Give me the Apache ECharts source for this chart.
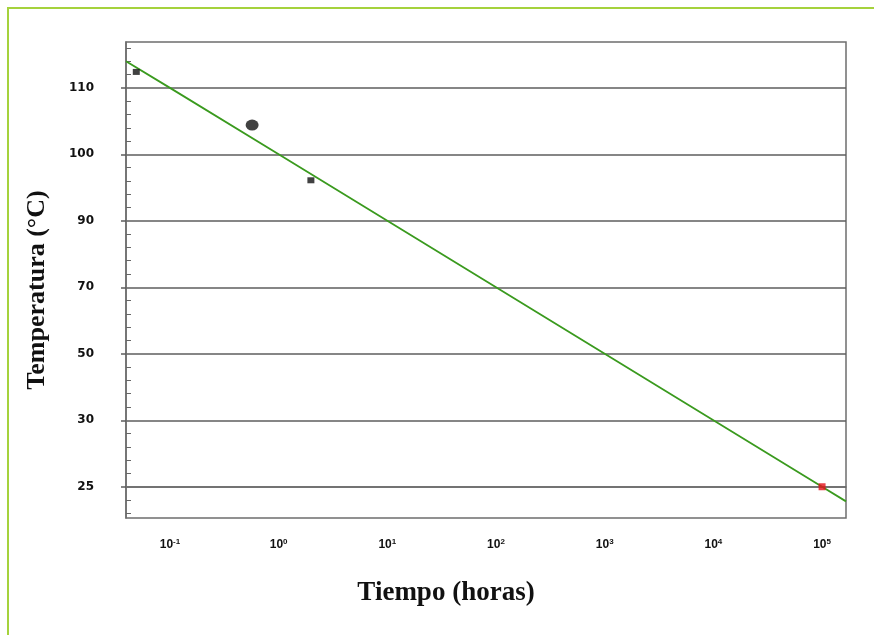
<!DOCTYPE html>
<html>
<head>
<meta charset="utf-8">
<script src="https://cdn.jsdelivr.net/npm/echarts@6/dist/echarts.min.js"></script>
<style>
  html, body { margin: 0; padding: 0; background: #fff; }
  #chart { width: 874px; height: 635px; }
</style>
</head>
<body>
<div id="chart"></div>
<script>
  // temperaturas de las lineas de la rejilla (de abajo hacia arriba)
  const tempTicks = [25, 30, 50, 70, 90, 100, 110]
  const hourTicks = [0.1, 1, 10, 100, 1000, 10000, 100000]

  // puntos medidos
  const blackHours = [0.049, 1.98]
  const blackTemps = [112.4, 96.1]
  const circleHours = [0.57]
  const circleTemps = [104.4]
  const redHours = [100000]
  const redTemps = [25]

  // recta de ajuste
  const lineHours = [0.0394, 0.1, 1, 10, 100, 1000, 10000, 100000, 166000]
  const lineTemps = [114, 110, 100, 90, 70, 50, 30, 25, 23.9]

  // el eje Y no es lineal: cada linea de la rejilla ocupa una posicion
  function tempToPos(t) {
    let i = 0
    while (i < tempTicks.length - 2 && t > tempTicks[i + 1]) i++
    return i + (t - tempTicks[i]) / (tempTicks[i + 1] - tempTicks[i])
  }
  function pairs(xs, ys) {
    return xs.map((x, i) => [x, tempToPos(ys[i])])
  }

  const majorPos = tempTicks.map((t, i) => i)
  const minorPos = []
  for (let k = -2; k <= 33; k++) {
    if (k % 5 !== 0) minorPos.push(k / 5)
  }

  const chart = echarts.init(document.getElementById('chart'))
  chart.setOption({
    backgroundColor: '#fff',
    animation: false,
    graphic: [{
      type: 'rect',
      shape: { x: 8, y: 8, width: 900, height: 700 },
      style: { fill: 'none', stroke: '#a5d23c', lineWidth: 2 }
    }],
    grid: {
      left: 126, right: 28, top: 42, bottom: 117,
      show: true, borderColor: '#6e6e6e', borderWidth: 1.5,
      backgroundColor: 'transparent'
    },
    xAxis: {
      type: 'log',
      logBase: 10,
      min: 0.0394,
      max: 166000,
      name: 'Tiempo (horas)',
      nameLocation: 'middle',
      nameGap: 62,
      nameTextStyle: {
        fontFamily: 'Liberation Serif', fontWeight: 'bold', fontSize: 27,
        color: '#111', padding: [0, 80, 0, 0]
      },
      axisLine: { show: true, lineStyle: { color: '#6e6e6e', width: 1.5 } },
      axisTick: { show: false },
      splitLine: { show: false },
      minorTick: { show: false },
      axisLabel: {
        customValues: hourTicks,
        margin: 20,
        fontFamily: 'Liberation Sans',
        formatter: function (v) {
          const e = Math.round(Math.log10(v))
          return '{b|10}{s|' + e + '}'
        },
        rich: {
          b: { fontFamily: 'Liberation Sans', fontWeight: 'bold', fontSize: 12, color: '#111' },
          s: { fontFamily: 'Liberation Sans', fontWeight: 'bold', fontSize: 8, color: '#111', padding: [0, 0, 6, 0] }
        }
      }
    },
    yAxis: [{
      type: 'value',
      min: -0.47,
      max: 6.69,
      name: 'Temperatura (°C)',
      nameLocation: 'middle',
      nameGap: 76,
      nameTextStyle: {
        fontFamily: 'Liberation Serif', fontWeight: 'bold', fontSize: 26,
        color: '#111', padding: [0, 20, 0, 0]
      },
      axisLine: { show: true, lineStyle: { color: '#6e6e6e', width: 1.5 } },
      axisTick: { show: true, customValues: majorPos, length: 5, lineStyle: { color: '#5e5e5e', width: 1.5 } },
      splitLine: { show: true, lineStyle: { color: '#5e5e5e', width: 1.5 } },
      axisLabel: {
        customValues: majorPos,
        margin: 32,
        fontFamily: 'DejaVu Sans', fontWeight: 'bold', fontSize: 12, color: '#111',
        formatter: function (v) { return String(tempTicks[Math.round(v)]) }
      }
    }, {
      type: 'value',
      min: -0.47,
      max: 6.69,
      position: 'left',
      axisLine: { show: false },
      axisTick: { show: true, inside: true, customValues: minorPos, length: 5, lineStyle: { color: '#666', width: 1 } },
      splitLine: { show: false },
      axisLabel: { show: false }
    }],
    series: [{
      type: 'line',
      data: pairs(lineHours, lineTemps),
      symbol: 'none',
      clip: true,
      lineStyle: { color: '#3a9a1e', width: 1.8 },
      z: 3
    }, {
      type: 'scatter',
      data: pairs(blackHours, blackTemps),
      symbol: 'rect',
      symbolSize: [7, 6],
      itemStyle: { color: '#111' },
      z: 4
    }, {
      type: 'scatter',
      data: pairs(circleHours, circleTemps),
      symbol: 'circle',
      symbolSize: [13, 11],
      itemStyle: { color: '#111' },
      z: 4
    }, {
      type: 'scatter',
      data: pairs(redHours, redTemps),
      symbol: 'rect',
      symbolSize: 7,
      itemStyle: { color: '#e3121b' },
      z: 4
    }]
  })
</script>
</body>
</html>
